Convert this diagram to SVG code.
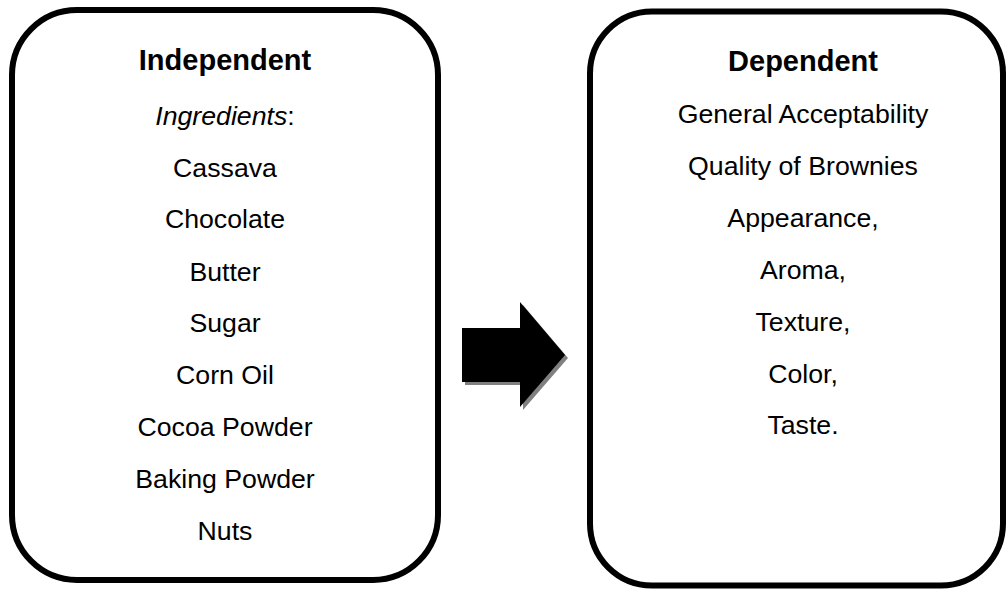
<svg xmlns="http://www.w3.org/2000/svg" width="1006" height="589" viewBox="0 0 1006 589">
<style>
.box{fill:#fff;stroke:#000;stroke-width:6}
text{font-family:"Liberation Sans",Arial,sans-serif;fill:#000;text-anchor:middle}
.h{font-size:29px;font-weight:bold}
.t{font-size:26.7px}
</style>
<rect width="1006" height="589" fill="#fff"/>
<g id="independent">
<rect class="box" x="12" y="10" width="426" height="570" rx="65" ry="65"/>
<text class="h" x="225" y="70">Independent</text>
<text class="t" x="225" y="125"><tspan font-style="italic">Ingredients</tspan>:</text>
<text class="t" x="225" y="177">Cassava</text>
<text class="t" x="225" y="228">Chocolate</text>
<text class="t" x="225" y="281">Butter</text>
<text class="t" x="225" y="332">Sugar</text>
<text class="t" x="225" y="384">Corn Oil</text>
<text class="t" x="225" y="436">Cocoa Powder</text>
<text class="t" x="225" y="488">Baking Powder</text>
<text class="t" x="225" y="540">Nuts</text>
</g>
<g id="dependent">
<rect class="box" x="590" y="11.5" width="413" height="574" rx="62" ry="62"/>
<text class="h" x="803" y="71">Dependent</text>
<text class="t" x="803" y="123">General Acceptability</text>
<text class="t" x="803" y="175">Quality of Brownies</text>
<text class="t" x="803" y="227">Appearance,</text>
<text class="t" x="803" y="279">Aroma,</text>
<text class="t" x="803" y="331">Texture,</text>
<text class="t" x="803" y="383">Color,</text>
<text class="t" x="803" y="434">Taste.</text>
</g>
<g id="connectors">
<polygon points="465,331 523,331 523,305 568,358 523,410 523,385 465,385" fill="#808080"/>
<polygon points="462,328 520,328 520,302 565,355 520,407 520,382 462,382" fill="#000"/>
</g>
</svg>
